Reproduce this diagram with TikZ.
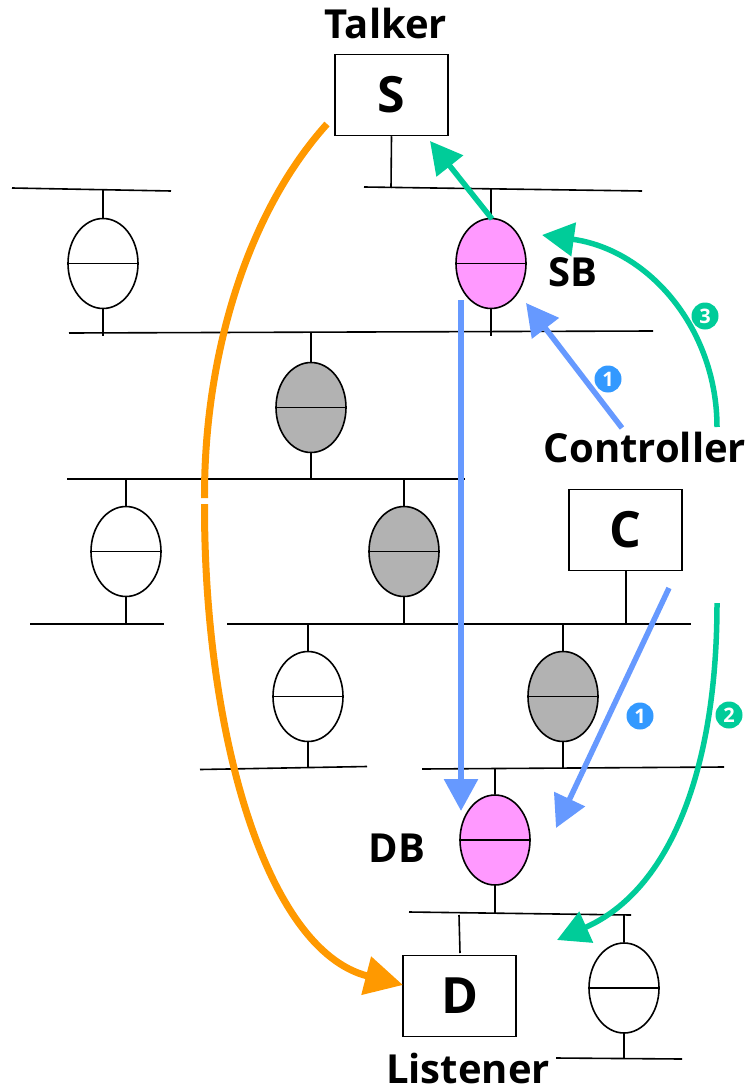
\documentclass[tikz,border=0pt]{standalone}
\usepackage{fontspec}
\setmainfont{Open Sans}
\usetikzlibrary{shapes.geometric,arrows.meta}
\definecolor{pinkn}{HTML}{FF99FF}
\definecolor{grayn}{HTML}{B2B2B2}
\definecolor{flowblue}{HTML}{6699FF}
\definecolor{flowgreen}{HTML}{00CC99}
\definecolor{floworange}{HTML}{FF9900}
\definecolor{numblue}{HTML}{3399FF}
\tikzset{
  wire/.style={draw=black,line width=1.6pt},
  bridge/.style={ellipse,draw=black,line width=1.6pt,minimum width=70pt,minimum height=90pt,inner sep=0pt,fill=white,
    append after command={(\tikzlastnode.west) edge[wire] (\tikzlastnode.east)}},
  hostbox/.style={rectangle,draw=black,line width=1.5pt,fill=white,minimum width=113pt,minimum height=81pt,inner sep=0pt,font=\bfseries\fontsize{50}{50}\selectfont},
  lbl/.style={font=\bfseries\fontsize{40}{40}\selectfont,inner sep=0pt},
  num/.style={circle,inner sep=0pt,minimum size=27pt,text=white,font=\bfseries\fontsize{20}{20}\selectfont},
  flow/.style={line width=6pt,-{Triangle[length=32pt,width=33pt]}},
}
\begin{document}
\begin{tikzpicture}[x=1pt,y=-1pt]
\useasboundingbox (0,0) rectangle (747,1091);
% bus end points
\coordinate (b1a) at (12,188); \coordinate (b1b) at (171,191);
\coordinate (b2a) at (364,187); \coordinate (b2b) at (642,191);
\coordinate (b3a) at (69,333); \coordinate (b3b) at (653,331);
\coordinate (b4a) at (67,479); \coordinate (b4b) at (465,479);
\coordinate (b5a) at (30,624); \coordinate (b5b) at (164,624);
\coordinate (b6a) at (227,624); \coordinate (b6b) at (691,624);
\coordinate (b7a) at (200,769.5); \coordinate (b7b) at (367,766.5);
\coordinate (b8a) at (422,769); \coordinate (b8b) at (724,767);
\coordinate (b9a) at (409,912); \coordinate (b9b) at (631,915);
\coordinate (b10a) at (556,1058); \coordinate (b10b) at (682,1059);
\foreach \n in {1,...,10} \draw[wire] (b\n a) -- (b\n b);
% stem ends
\coordinate (t1) at (103,190); \coordinate (u1) at (103,336);
\coordinate (t2) at (491,189); \coordinate (u2) at (491,336);
\coordinate (t3) at (311,333); \coordinate (u3) at (311,479);
\coordinate (t4) at (126,479); \coordinate (u4) at (126,624);
\coordinate (t5) at (404,479); \coordinate (u5) at (404,624);
\coordinate (t6) at (308,624); \coordinate (u6) at (308,768);
\coordinate (t7) at (563,624); \coordinate (u7) at (563,769);
\coordinate (t8) at (495,769); \coordinate (u8) at (495,913);
\coordinate (t9) at (624,915); \coordinate (u9) at (624,1059);
\coordinate (sb) at (391,188); \coordinate (cb) at (626,624);
\coordinate (dt) at (459,915);
\coordinate (dbot) at (460,953);
% bridges
\node[bridge] (n1) at (103,263.5) {};
\node[bridge,fill=pinkn] (n2) at (491,263.5) {};
\node[bridge,fill=grayn] (n3) at (311,407.5) {};
\node[bridge] (n4) at (126,551.5) {};
\node[bridge,fill=grayn] (n5) at (404,551.5) {};
\node[bridge] (n6) at (308,696.5) {};
\node[bridge,fill=grayn] (n7) at (563,696.5) {};
\node[bridge,fill=pinkn] (n8) at (495,840) {};
\node[bridge] (n9) at (624,988) {};
\foreach \n in {1,...,9} \draw[wire] (n\n.north) -- (t\n) (n\n.south) -- (u\n);
% hosts
\node[hostbox] (S) at (391.5,95) {\raisebox{-2pt}{S}};
\node[hostbox] (C) at (625.5,530) {\raisebox{-4pt}{C}};
\node[hostbox] (D) at (459.5,996) {\raisebox{-4pt}{D}};
\draw[wire] (S.south) -- (sb);
\draw[wire] (C.south -| cb) -- (cb);
\draw[wire] (dt) -- (dbot);
% labels
\node[lbl,anchor=base] (talker) at (386,39) {Talker};
\node[lbl,anchor=base] (sblabel) at (573,286) {SB};
\node[lbl,anchor=base] (ctrl) at (645,462) {Controller};
\node[lbl,anchor=base] (dblabel) at (397,862) {DB};
\node[lbl,anchor=base] (listener) at (468,1083) {Listener};
\node[num,fill=flowgreen] (num3) at (705,316) {3};
\node[num,fill=numblue] (num1a) at (608,379) {1};
\node[num,fill=numblue] (num1b) at (640,716) {1};
\node[num,fill=flowgreen] (num2) at (729,715) {2};
% flow end points
\coordinate (o1) at (327,124); \coordinate (o2) at (204.5,498);
\coordinate (o3) at (204.5,504); \coordinate (o4) at (403,985);
\coordinate (g1) at (492,219); \coordinate (g2) at (430,141);
\coordinate (g3) at (717,427); \coordinate (g4) at (542,235);
\coordinate (g5) at (717,603); \coordinate (g6) at (557,940);
\coordinate (f1) at (622,428); \coordinate (f2) at (526,303);
\coordinate (f3) at (461,300); \coordinate (f4) at (461,811);
\coordinate (f5) at (669,588); \coordinate (f6) at (556,828);
% flows
\draw[floworange,line width=7pt] (o1) .. controls (245,215) and (204,360) .. (o2);
\draw[floworange,line width=7pt,-{Triangle[length=38pt,width=38pt]}] (o3) .. controls (204,730) and (265,950) .. (o4);
\draw[flowblue,flow] (f3) -- (f4);
\draw[flowblue,flow,line width=5.5pt] (f1) -- (f2);
\draw[flowblue,flow,line width=5.5pt] (f5) -- (f6);
\draw[flowgreen,flow,line width=5.5pt] (g1) -- (g2);
\draw[flowgreen,flow,line width=5.5pt] (g3) .. controls (717,330) and (650,250) .. (g4);
\draw[flowgreen,flow,line width=5.5pt] (g5) .. controls (717,770) and (670,890) .. (g6);
\end{tikzpicture}
\end{document}
